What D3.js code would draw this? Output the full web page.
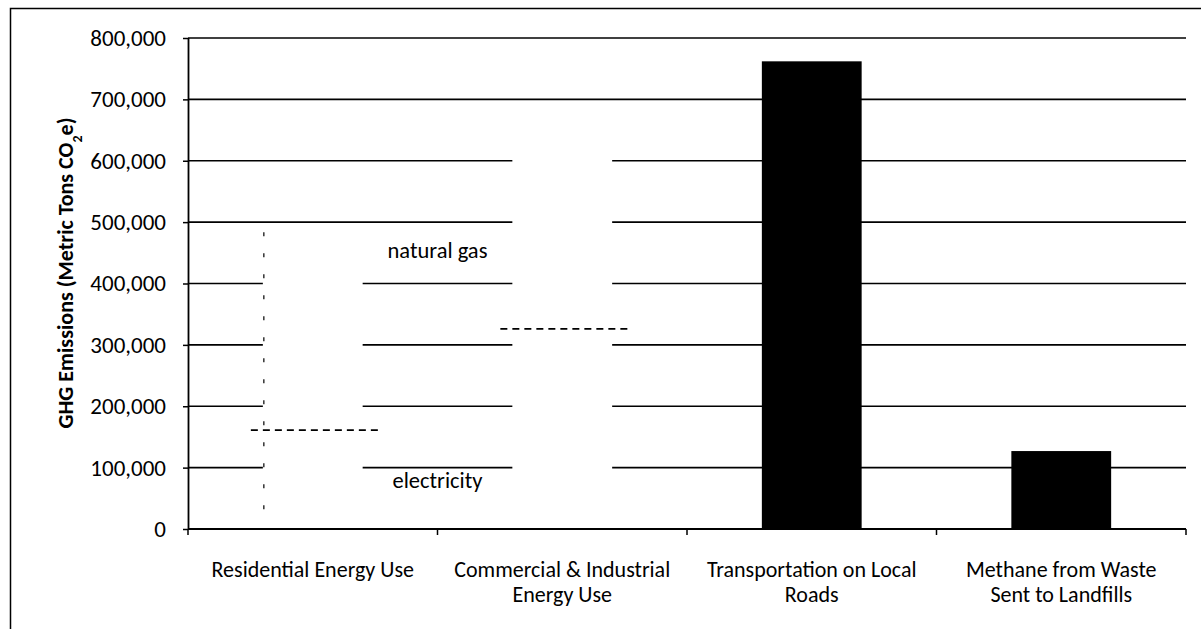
<!DOCTYPE html>
<html>
<head>
<meta charset="utf-8">
<script src="https://cdn.jsdelivr.net/npm/d3@7"></script>
<style>
  html, body { margin: 0; padding: 0; background: #fff; }
  svg { display: block; }
  text { font-family: Carlito, Lato, "Open Sans", sans-serif; fill: #000; }
</style>
</head>
<body>
<svg id="chart" width="1201" height="629"></svg>
<script>
// Emission sources (x categories), wrapped label lines for each
const categories = [
  "Residential Energy Use",
  "Commercial & Industrial Energy Use",
  "Transportation on Local Roads",
  "Methane from Waste Sent to Landfills"
];
const categoryLines = [
  ["Residential Energy Use"],
  ["Commercial & Industrial", "Energy Use"],
  ["Transportation on Local", "Roads"],
  ["Methane from Waste", "Sent to Landfills"]
];
// Total emissions per source (metric tons CO2e)
const totals = [490000, 609000, 762000, 127000];
// Electricity share of the two energy-use totals (rest is natural gas)
const electricity = [161000, 326000, null, null];
// Energy-use bars are drawn open, the others solid
const openBar = [true, true, false, false];
const yTicks = [0, 100000, 200000, 300000, 400000, 500000, 600000, 700000, 800000];

const FONT = "Carlito, Lato, 'Open Sans', sans-serif";
const svg = d3.select("#chart");
const margin = { left: 188, right: 1186, top: 38, bottom: 529 };

const x = d3.scaleBand().domain(categories).range([margin.left, margin.right]).paddingInner(0.6).paddingOuter(0.3);
const y = d3.scaleLinear().domain([0, 800000]).range([margin.bottom, margin.top]);

// Outer frame
svg.append("path")
  .attr("d", "M10.5,640 L10.5,8.5 L1205,8.5")
  .attr("fill", "none").attr("stroke", "#000").attr("stroke-width", 1.5);

// Horizontal gridlines
svg.append("g").selectAll("line").data(yTicks.filter(d => d > 0)).join("line")
  .attr("x1", margin.left).attr("x2", margin.right)
  .attr("y1", d => y(d)).attr("y2", d => y(d))
  .attr("stroke", "#000").attr("stroke-width", 1.6);

// Bars
svg.append("g").selectAll("rect").data(categories).join("rect")
  .attr("x", d => x(d))
  .attr("width", x.bandwidth())
  .attr("y", (d, i) => y(totals[i]))
  .attr("height", (d, i) => y(0) - y(totals[i]))
  .attr("fill", (d, i) => openBar[i] ? "#fff" : "#000");

// Faint left edge of the residential bar
svg.append("line")
  .attr("x1", x(categories[0]) + 1).attr("x2", x(categories[0]) + 1)
  .attr("y1", y(totals[0]) + 4).attr("y2", y(0) - 3)
  .attr("stroke", "#000").attr("stroke-width", 1.2)
  .attr("stroke-dasharray", "4,17");

// Split between electricity and natural gas
const splitIdx = electricity.map((v, i) => v == null ? null : i).filter(v => v != null);
svg.append("g").selectAll("line").data(splitIdx).join("line")
  .attr("x1", i => x(categories[i]) - 12)
  .attr("x2", i => x(categories[i]) + x.bandwidth() + 17)
  .attr("y1", i => y(electricity[i])).attr("y2", i => y(electricity[i]))
  .attr("stroke", "#000").attr("stroke-width", 1.8)
  .attr("stroke-dasharray", "7,5");

// Segment labels between the two energy bars
const midX = (x(categories[0]) + x.bandwidth() + x(categories[1])) / 2;
svg.append("text").attr("x", midX).attr("y", y(441000)).attr("text-anchor", "middle")
  .attr("font-size", 22.5).text("natural gas");
svg.append("text").attr("x", midX).attr("y", y(66000)).attr("text-anchor", "middle")
  .attr("font-size", 22.5).text("electricity");

// Y axis
const yAxis = svg.append("g").attr("transform", `translate(${margin.left},0)`)
  .call(d3.axisLeft(y).tickValues(yTicks).tickSize(5).tickPadding(17).tickFormat(d3.format(",")));
yAxis.select(".domain").attr("stroke-width", 1.8).attr("d", `M0.5,${y(800000)}V${y(0)}`);
yAxis.selectAll(".tick line").attr("stroke-width", 1.5);
yAxis.selectAll(".tick text").attr("font-size", 23).attr("font-family", FONT).attr("fill", "#000");

// X axis baseline with ticks at band boundaries
const bounds = categories.map(c => x(c) - x.step() * x.paddingInner() / 2).concat([margin.right]);
bounds[0] = margin.left;
svg.append("line").attr("x1", margin.left).attr("x2", margin.right)
  .attr("y1", y(0)).attr("y2", y(0)).attr("stroke", "#000").attr("stroke-width", 1.8);
svg.append("g").selectAll("line").data(bounds).join("line")
  .attr("x1", d => d).attr("x2", d => d)
  .attr("y1", y(0)).attr("y2", y(0) + 6)
  .attr("stroke", "#000").attr("stroke-width", 1.5);

// Category labels, one text element per line
const lineSpacing = 25;
svg.append("g").selectAll("g").data(categories).join("g")
  .each(function(d, i) {
    d3.select(this).selectAll("text").data(categoryLines[i]).join("text")
      .attr("text-anchor", "middle").attr("font-size", 22)
      .attr("x", x(d) + x.bandwidth() / 2)
      .attr("y", (t, j) => 577 + j * lineSpacing)
      .text(t => t);
  });

// Y axis title
const yt = svg.append("text")
  .attr("transform", `translate(73,273) rotate(-90)`)
  .attr("text-anchor", "middle").attr("font-size", 22).attr("font-weight", "bold");
yt.append("tspan").text("GHG Emissions (Metric Tons CO");
yt.append("tspan").attr("baseline-shift", "sub").attr("font-size", 14).text("2");
yt.append("tspan").text("e)");
</script>
</body>
</html>
